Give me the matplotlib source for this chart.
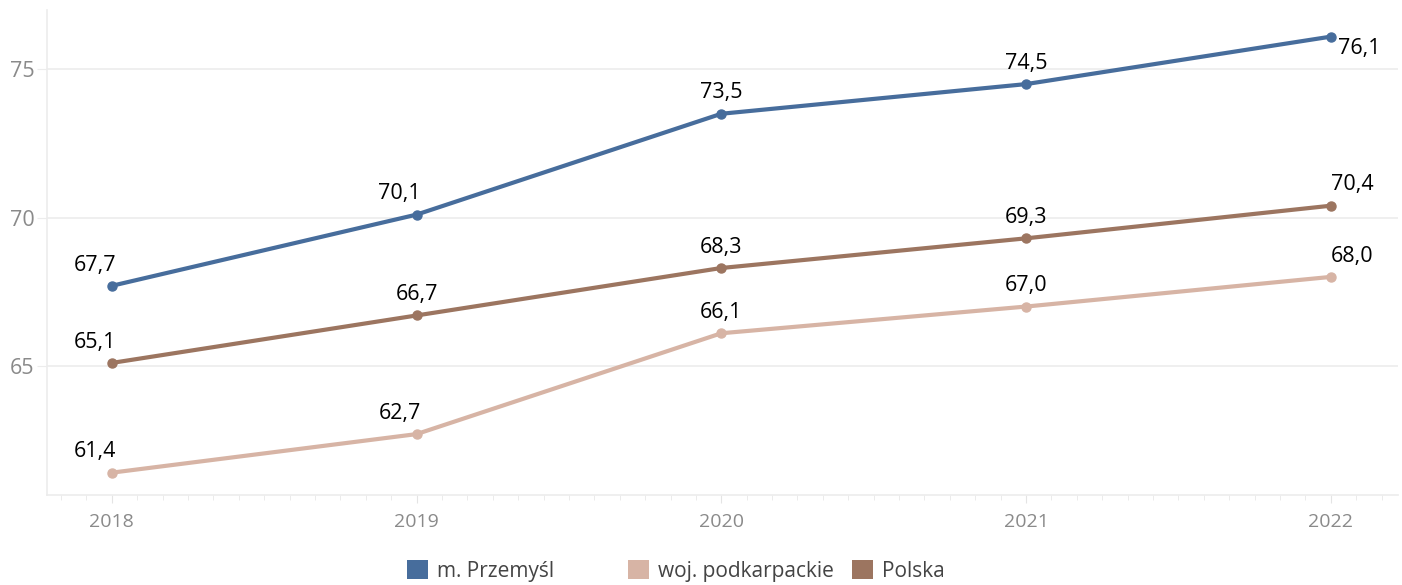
import matplotlib
matplotlib.use("Agg")
from matplotlib import pyplot as plt
from matplotlib.patches import Patch
from matplotlib.ticker import MultipleLocator

plt.rcParams['font.family'] = ['Open Sans', 'DejaVu Sans']

years = [2018, 2019, 2020, 2021, 2022]
przemysl = [67.7, 70.1, 73.5, 74.5, 76.1]
podkarpackie = [61.4, 62.7, 66.1, 67.0, 68.0]
polska = [65.1, 66.7, 68.3, 69.3, 70.4]
series_names = ["m. Przemyśl", "woj. podkarpackie", "Polska"]
colors = ["#476d9c", "#d7b4a5", "#9c7560"]

# label placement per point: (ha, dx, dy, va)
def place(name, i):
    if i == 4:
        if name == "m. Przemyśl":
            return "left", 5, -1, "top"
        return "left", 0, 11, "baseline"
    if i == 0 or (i == 1 and name != "Polska"):
        return "right", 3, 11, "baseline"
    return "center", 0, 11, "baseline"

fig = plt.figure(figsize=(14.02, 5.85), dpi=100)
ax = fig.add_axes([0.0335, 0.154, 0.9635, 0.829])

for name, vals, c in zip(series_names, [przemysl, podkarpackie, polska], colors):
    ax.plot(years, vals, color=c, lw=3, marker="o", ms=6.5, solid_capstyle="round", zorder=3)
    for i, (x, y) in enumerate(zip(years, vals)):
        ha, dx, dy, va = place(name, i)
        ax.annotate(f"{y:.1f}".replace(".", ","), (x, y), xytext=(dx, dy),
                    textcoords="offset points", ha=ha, va=va, fontsize=15.5, color="black", zorder=4)

ax.set_xlim(2017.787, 2022.22)
ax.set_ylim(60.65, 77.0)
ax.set_xticks(years)
ax.xaxis.set_minor_locator(MultipleLocator(1 / 12))
ax.set_yticks([65, 70, 75])
ax.grid(True, axis="y", color="#ececec", lw=1.2)
ax.set_axisbelow(True)
for s in ["top", "right"]:
    ax.spines[s].set_visible(False)
for s in ["left", "bottom"]:
    ax.spines[s].set_color("#ececec")
    ax.spines[s].set_linewidth(1.2)
ax.tick_params(axis="x", which="major", length=6, color="#e4e4e4", labelsize=14, labelcolor="#8a8a8a", pad=7)
ax.tick_params(axis="x", which="minor", length=3.5, color="#e8e8e8")
ax.tick_params(axis="y", length=7, color="#ececec", labelsize=15.5, labelcolor="#8a8a8a", pad=2)

# legend entries in fixed-width columns
leg_x = [0.2903, 0.448, 0.6077]
for name, c, lx in zip(series_names, colors, leg_x):
    leg = fig.legend([Patch(facecolor=c, edgecolor="none")], [name], loc="center left",
                     bbox_to_anchor=(lx, 0.024), frameon=False, fontsize=15, borderpad=0,
                     borderaxespad=0, handlelength=1.0, handleheight=1.0, handletextpad=0.45,
                     labelcolor="#444444")

fig.savefig("out.png", dpi=100)
